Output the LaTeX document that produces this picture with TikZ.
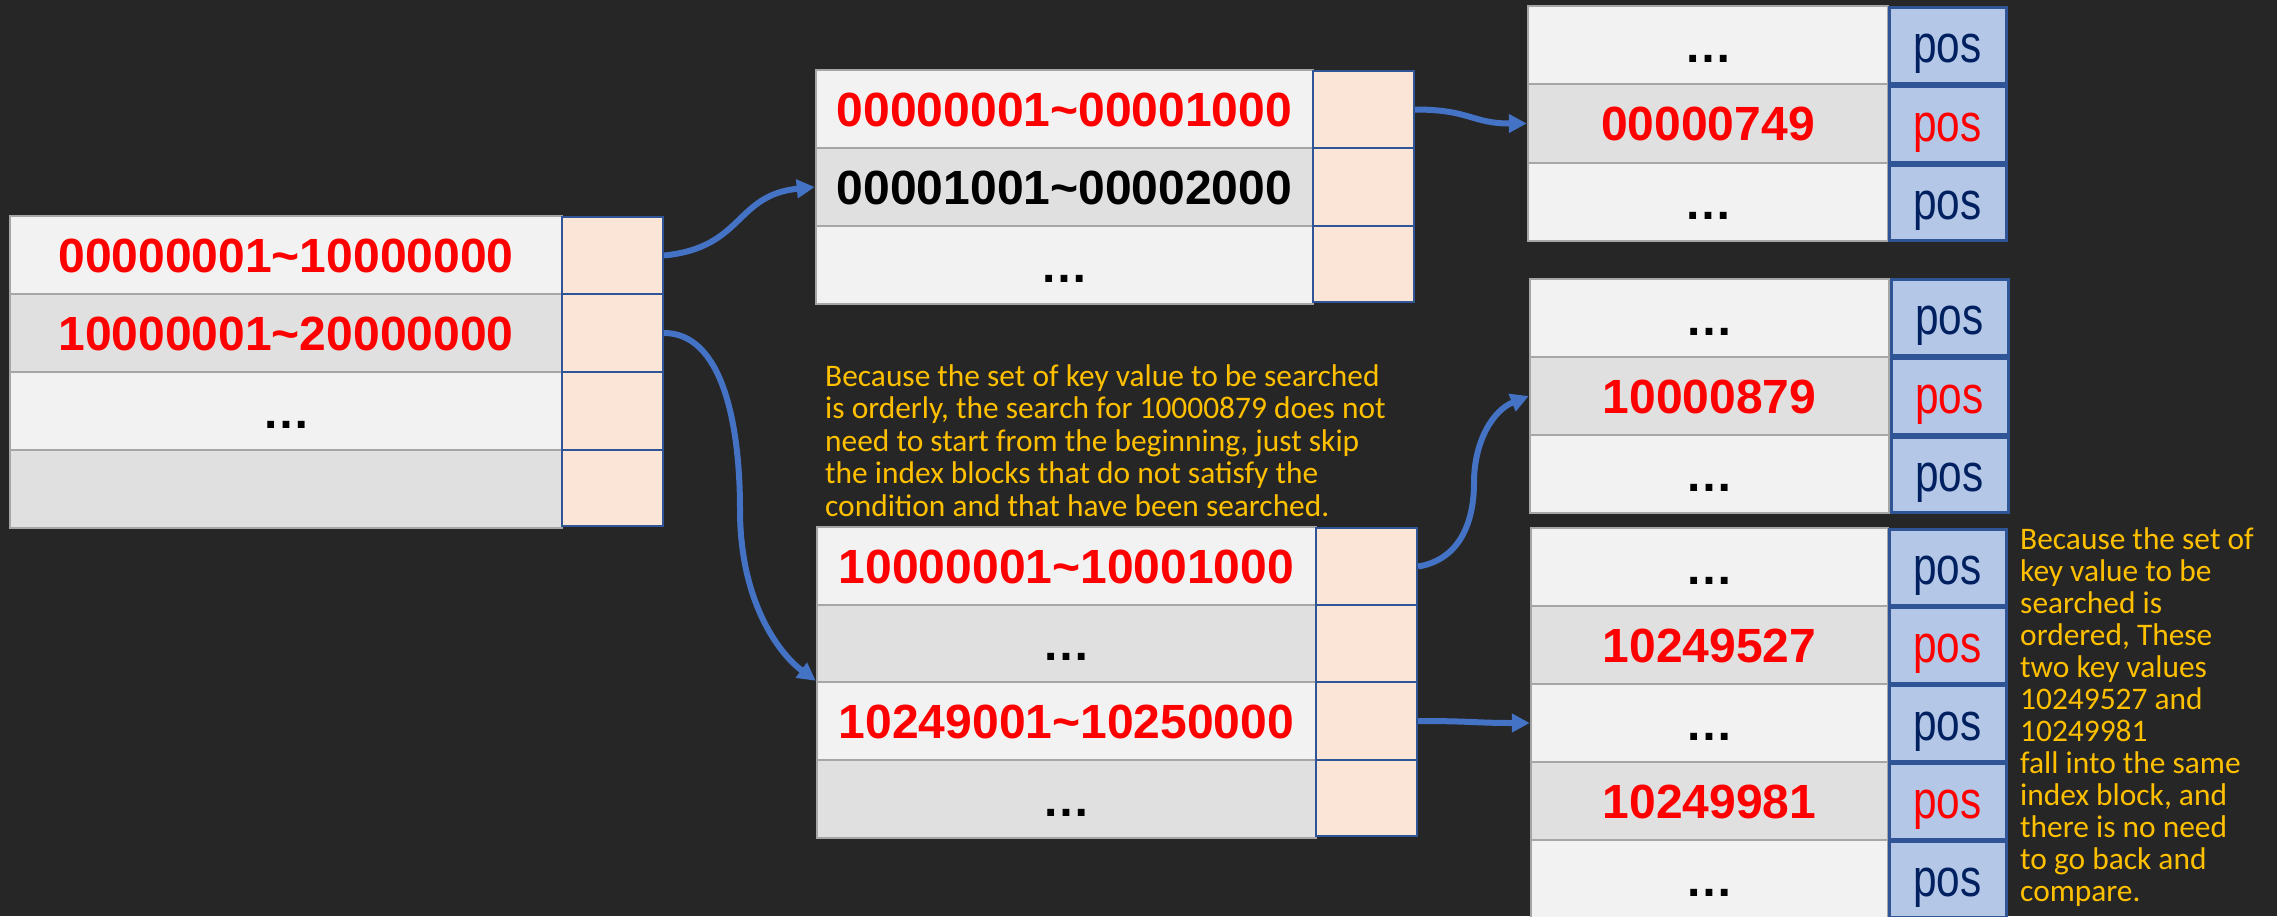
\documentclass[tikz,border=0pt]{standalone}
\usepackage{fontspec}
\usetikzlibrary{arrows.meta}
\newfontfamily\numfont{Liberation Sans}
\newfontfamily\posfont[FakeStretch=0.8]{Liberation Sans}
\newfontfamily\notefont{Carlito}
\definecolor{bg}{HTML}{262626}
\definecolor{keylight}{HTML}{F2F2F2}
\definecolor{keydark}{HTML}{E0E0E0}
\definecolor{keyline}{HTML}{A6A6A6}
\definecolor{peach}{HTML}{FBE5D6}
\definecolor{navyline}{HTML}{2F5597}
\definecolor{posfill}{HTML}{B4C7E7}
\definecolor{navytext}{HTML}{002060}
\definecolor{hotred}{HTML}{FF0000}
\definecolor{noteyellow}{HTML}{FFC000}
\definecolor{arrowblue}{HTML}{4472C4}
\newcommand\mycell[7]{%
  \pgfmathsetmacro\cx{(#2+#4)/2}\pgfmathsetmacro\cy{(#3+#5)/2}%
  \pgfmathsetmacro\cw{#4-#2}\pgfmathsetmacro\ch{#5-#3}%
  \node[#6, minimum width=\cw pt, minimum height=\ch pt] (#1) at (\cx,\cy) {#7};}
\begin{document}
\begin{tikzpicture}[x=1pt,y=-1pt,
  keycell/.style={draw=keyline, line width=2.5pt, inner sep=0pt, text=black,
    font=\numfont\bfseries\fontsize{48}{50}\selectfont, text height=34pt, text depth=0pt},
  light/.style={fill=keylight},
  dark/.style={fill=keydark},
  hot/.style={text=hotred},
  ptrcell/.style={draw=navyline, fill=peach, line width=2pt, inner sep=0pt},
  poscell/.style={draw=navyline, fill=posfill, line width=3pt, inner sep=0pt, text=navytext,
    font=\posfont\fontsize{53}{55}\selectfont, text height=34pt, text depth=0pt},
  note/.style={inner sep=0pt, text=noteyellow, font=\notefont\fontsize{31.4}{32.5}\selectfont},
  arr/.style={draw=arrowblue, line width=6pt, -{Triangle[length=18pt,width=18pt]}}
]
\clip (0,0) rectangle (2277,916);
\fill[bg] (0,0) rectangle (2277,916);
\useasboundingbox (0,0) rectangle (2277,916);

% Table 1 (left)
\mycell{t1k1}{10}{216}{562}{294}{keycell,light,hot}{00000001\textasciitilde 10000000}
\mycell{t1k2}{10}{294}{562}{372}{keycell,dark,hot}{10000001\textasciitilde 20000000}
\mycell{t1k3}{10}{372}{562}{450}{keycell,light}{…}
\mycell{t1k4}{10}{450}{562}{528}{keycell,dark}{}
\mycell{t1p1}{562}{217}{663}{294}{ptrcell}{}
\mycell{t1p2}{562}{294}{663}{372}{ptrcell}{}
\mycell{t1p3}{562}{372}{663}{450}{ptrcell}{}
\mycell{t1p4}{562}{450}{663}{526}{ptrcell}{}

% Table 2 (middle top)
\mycell{t2k1}{816}{70}{1313}{148}{keycell,light,hot}{00000001\textasciitilde 00001000}
\mycell{t2k2}{816}{148}{1313}{226}{keycell,dark}{00001001\textasciitilde 00002000}
\mycell{t2k3}{816}{226}{1313}{304}{keycell,light}{…}
\mycell{t2p1}{1313}{71}{1414}{148}{ptrcell}{}
\mycell{t2p2}{1313}{148}{1414}{226}{ptrcell}{}
\mycell{t2p3}{1313}{226}{1414}{302}{ptrcell}{}

% Table 6 (middle bottom)
\mycell{t6k1}{817}{527}{1316}{605}{keycell,light,hot}{10000001\textasciitilde 10001000}
\mycell{t6k2}{817}{605}{1316}{682}{keycell,dark}{…}
\mycell{t6k3}{817}{682}{1316}{760}{keycell,light,hot}{10249001\textasciitilde 10250000}
\mycell{t6k4}{817}{760}{1316}{838}{keycell,dark}{…}
\mycell{t6p1}{1316}{528}{1417}{605}{ptrcell}{}
\mycell{t6p2}{1316}{605}{1417}{682}{ptrcell}{}
\mycell{t6p3}{1316}{682}{1417}{760}{ptrcell}{}
\mycell{t6p4}{1316}{760}{1417}{836}{ptrcell}{}

% Table 3 (right top)
\mycell{t3k1}{1528}{6}{1888}{84}{keycell,light}{…}
\mycell{t3k2}{1528}{84}{1888}{163}{keycell,dark,hot}{00000749}
\mycell{t3k3}{1528}{163}{1888}{241}{keycell,light}{…}
\mycell{t3p1}{1889}{7}{2006}{83}{poscell}{pos}
\mycell{t3p2}{1889}{86}{2006}{162}{poscell,text=hotred}{pos}
\mycell{t3p3}{1889}{165}{2006}{240}{poscell}{pos}

% Table 4 (right middle)
\mycell{t4k1}{1530}{279}{1889}{357}{keycell,light}{…}
\mycell{t4k2}{1530}{357}{1889}{435}{keycell,dark,hot}{10000879}
\mycell{t4k3}{1530}{435}{1889}{513}{keycell,light}{…}
\mycell{t4p1}{1891}{279}{2008}{355}{poscell}{pos}
\mycell{t4p2}{1891}{358}{2008}{434}{poscell,text=hotred}{pos}
\mycell{t4p3}{1891}{437}{2008}{512}{poscell}{pos}

% Table 5 (right bottom)
\mycell{t5k1}{1531}{528}{1888}{606}{keycell,light}{…}
\mycell{t5k2}{1531}{606}{1888}{684}{keycell,dark,hot}{10249527}
\mycell{t5k3}{1531}{684}{1888}{762}{keycell,light}{…}
\mycell{t5k4}{1531}{762}{1888}{840}{keycell,dark,hot}{10249981}
\mycell{t5k5}{1531}{840}{1888}{918}{keycell,light}{…}
\mycell{t5p1}{1889}{529}{2006}{605}{poscell}{pos}
\mycell{t5p2}{1889}{607}{2006}{683}{poscell,text=hotred}{pos}
\mycell{t5p3}{1889}{685}{2006}{761}{poscell}{pos}
\mycell{t5p4}{1889}{763}{2006}{839}{poscell,text=hotred}{pos}
\mycell{t5p5}{1889}{841}{2006}{917}{poscell}{pos}

% Notes
\node[note, anchor=base west] (note1) at (825,386) {\begin{tabular}[t]{@{}l@{}}
Because the set of key value to be searched\\
is orderly, the search for 10000879 does not\\
need to start from the beginning, just skip\\
the index blocks that do not satisfy the\\
condition and that have been searched.\end{tabular}};
\node[note, anchor=base west, font=\notefont\fontsize{31.4}{32}\selectfont] (note2) at (2020,549) {\begin{tabular}[t]{@{}l@{}}
Because the set of\\
key value to be\\
searched is\\
ordered, These\\
two key values\\
10249527 and\\
10249981\\
fall into the same\\
index block, and\\
there is no need\\
to go back and\\
compare.\end{tabular}};

% Connectors
\coordinate (m2) at (740,510);
\coordinate (m4) at (1474,483);
\draw[arr] (t1p1.east) .. controls +(80,-8) and +(-80,8) .. (t2k2.west);
\draw[arr] (t1p2.east) .. controls +(57,0) and +(0,-90) .. (m2) .. controls +(0,90) and +(-38,-28) .. (t6k3.north west);
\draw[arr] (t2p1.east) .. controls +(55,0) and +(-55,0) .. (t3k2.west);
\draw[arr] (t6p1.east) .. controls +(43,-7) and +(0,37) .. (m4) .. controls +(0,-43) and +(-35,14) .. (t4k2.west);
\draw[arr] (t6p3.east) .. controls +(55,0) and +(-55,0) .. (t5k3.west);
\end{tikzpicture}
\end{document}
